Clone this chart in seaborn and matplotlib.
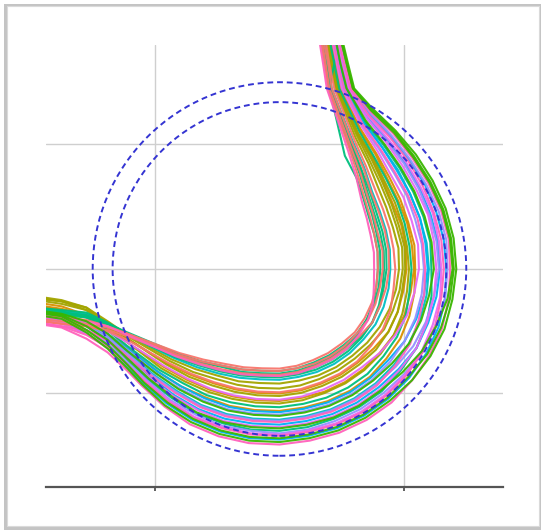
import numpy as np
import pandas as pd
import matplotlib
matplotlib.use("Agg")
import matplotlib.pyplot as plt
import seaborn as sns
from matplotlib.patches import Circle, Rectangle

# ---------------- data ----------------
PALETTE = {"salmon": "#F8766D", "orange": "#D89000", "olive": "#A3A500",
           "green": "#39B600", "teal": "#00BF7D", "cyan": "#00BFC4",
           "blue": "#00B0F6", "purple": "#9590FF", "magenta": "#E76BF3",
           "pink": "#FF62BC"}
HUE_ORDER = ["orange", "olive", "cyan", "teal", "blue", "purple", "magenta",
             "salmon", "pink", "green"]

line_colors = ["salmon", "teal", "pink", "teal", "salmon", "cyan", "olive", "teal",
               "salmon", "teal", "orange", "olive", "salmon", "orange", "olive",
               "magenta", "teal", "orange", "blue", "purple", "green", "cyan",
               "pink", "blue", "magenta", "teal", "purple", "pink", "green",
               "blue", "pink", "green", "purple", "magenta", "olive", "green"]

# entry part: y values at fixed x positions
LEFT_X = [-1.95, -1.75, -1.55, -1.38, -1.22]
left_y = [
    [-0.40, -0.42, -0.44, -0.47, -0.52], [-0.33, -0.35, -0.37, -0.44, -0.51],
    [-0.38, -0.40, -0.42, -0.46, -0.53], [-0.34, -0.36, -0.38, -0.45, -0.53],
    [-0.42, -0.44, -0.46, -0.49, -0.54], [-0.32, -0.34, -0.36, -0.44, -0.53],
    [-0.24, -0.26, -0.31, -0.42, -0.53], [-0.35, -0.37, -0.39, -0.45, -0.52],
    [-0.37, -0.39, -0.41, -0.46, -0.52], [-0.31, -0.33, -0.35, -0.43, -0.52],
    [-0.30, -0.33, -0.36, -0.46, -0.56], [-0.22, -0.25, -0.31, -0.44, -0.56],
    [-0.41, -0.44, -0.46, -0.50, -0.57], [-0.29, -0.32, -0.37, -0.47, -0.59],
    [-0.23, -0.26, -0.33, -0.46, -0.59], [-0.39, -0.42, -0.44, -0.50, -0.59],
    [-0.31, -0.34, -0.39, -0.49, -0.62], [-0.27, -0.30, -0.37, -0.49, -0.63],
    [-0.36, -0.39, -0.42, -0.52, -0.64], [-0.37, -0.40, -0.44, -0.53, -0.65],
    [-0.33, -0.36, -0.42, -0.52, -0.66], [-0.35, -0.38, -0.44, -0.54, -0.67],
    [-0.43, -0.46, -0.49, -0.57, -0.70], [-0.36, -0.39, -0.46, -0.56, -0.70],
    [-0.40, -0.43, -0.49, -0.58, -0.72], [-0.34, -0.37, -0.46, -0.58, -0.73],
    [-0.38, -0.41, -0.49, -0.60, -0.75], [-0.43, -0.46, -0.53, -0.63, -0.77],
    [-0.35, -0.38, -0.49, -0.61, -0.77], [-0.39, -0.42, -0.52, -0.63, -0.79],
    [-0.44, -0.47, -0.56, -0.67, -0.82], [-0.37, -0.40, -0.51, -0.64, -0.80],
    [-0.38, -0.41, -0.46, -0.55, -0.68], [-0.41, -0.44, -0.52, -0.62, -0.77],
    [-0.25, -0.28, -0.33, -0.43, -0.54], [-0.34, -0.37, -0.46, -0.57, -0.72],
]

# loop part: distance from circle centre at fixed bearings (degrees)
ANGLES_DEG = [-140, -130, -120, -110, -100, -90, -80, -70, -60, -50, -40,
              -30, -20, -10, 0, 10, 20, 30, 40, 50, 60]
radii = [
    [1.05, 0.95, 0.88, 0.84, 0.81, 0.80, 0.79, 0.78, 0.78, 0.78, 0.79, 0.79, 0.79, 0.79, 0.79, 0.80, 0.81, 0.84, 0.89, 0.98, 1.12],
    [1.06, 0.97, 0.90, 0.86, 0.83, 0.82, 0.81, 0.80, 0.80, 0.80, 0.81, 0.81, 0.81, 0.81, 0.81, 0.82, 0.83, 0.86, 0.91, 1.00, 1.13],
    [1.09, 1.00, 0.94, 0.90, 0.87, 0.86, 0.85, 0.84, 0.84, 0.84, 0.83, 0.82, 0.80, 0.77, 0.76, 0.77, 0.78, 0.81, 0.86, 0.96, 1.10],
    [1.10, 1.01, 0.95, 0.91, 0.88, 0.87, 0.86, 0.86, 0.86, 0.86, 0.86, 0.86, 0.85, 0.84, 0.84, 0.85, 0.86, 0.88, 0.93, 1.02, 1.15],
    [1.08, 0.99, 0.93, 0.89, 0.86, 0.85, 0.84, 0.83, 0.83, 0.83, 0.84, 0.86, 0.86, 0.87, 0.88, 0.89, 0.90, 0.92, 0.96, 1.05, 1.17],
    [1.11, 1.03, 0.97, 0.93, 0.90, 0.89, 0.88, 0.88, 0.88, 0.88, 0.88, 0.89, 0.89, 0.89, 0.89, 0.90, 0.91, 0.93, 0.97, 1.06, 1.18],
    [1.13, 1.05, 0.99, 0.96, 0.93, 0.92, 0.91, 0.91, 0.91, 0.91, 0.92, 0.93, 0.94, 0.95, 0.96, 0.97, 0.97, 0.99, 1.03, 1.11, 1.22],
    [1.07, 0.98, 0.91, 0.88, 0.85, 0.84, 0.83, 0.82, 0.82, 0.82, 0.82, 0.81, 0.80, 0.79, 0.79, 0.80, 0.81, 0.83, 0.88, 0.96, 1.05],
    [1.07, 0.97, 0.90, 0.86, 0.83, 0.82, 0.81, 0.81, 0.81, 0.81, 0.81, 0.82, 0.82, 0.82, 0.83, 0.84, 0.84, 0.87, 0.92, 1.01, 1.14],
    [1.09, 1.00, 0.94, 0.90, 0.87, 0.86, 0.85, 0.84, 0.84, 0.84, 0.85, 0.86, 0.86, 0.85, 0.86, 0.87, 0.88, 0.90, 0.95, 1.03, 1.16],
    [1.18, 1.11, 1.06, 1.03, 1.01, 1.00, 0.99, 0.98, 0.98, 0.98, 0.99, 1.01, 1.01, 1.01, 1.02, 1.03, 1.04, 1.05, 1.09, 1.16, 1.26],
    [1.19, 1.13, 1.08, 1.05, 1.03, 1.02, 1.01, 1.00, 1.00, 1.00, 1.01, 1.01, 1.01, 1.00, 1.01, 1.02, 1.02, 1.04, 1.08, 1.15, 1.25],
    [1.17, 1.10, 1.05, 1.02, 1.00, 0.99, 0.98, 0.97, 0.97, 0.97, 0.96, 0.96, 0.95, 0.93, 0.93, 0.93, 0.94, 0.96, 1.00, 1.08, 1.20],
    [1.22, 1.16, 1.12, 1.09, 1.07, 1.06, 1.05, 1.05, 1.05, 1.05, 1.05, 1.06, 1.07, 1.07, 1.08, 1.08, 1.09, 1.10, 1.13, 1.20, 1.29],
    [1.24, 1.18, 1.14, 1.11, 1.09, 1.08, 1.07, 1.06, 1.06, 1.06, 1.06, 1.06, 1.05, 1.04, 1.04, 1.04, 1.05, 1.07, 1.10, 1.17, 1.26],
    [1.21, 1.15, 1.11, 1.08, 1.06, 1.05, 1.04, 1.03, 1.03, 1.03, 1.05, 1.07, 1.09, 1.10, 1.12, 1.13, 1.13, 1.15, 1.17, 1.23, 1.32],
    [1.26, 1.20, 1.17, 1.14, 1.12, 1.11, 1.10, 1.10, 1.10, 1.10, 1.09, 1.09, 1.08, 1.06, 1.06, 1.06, 1.07, 1.09, 1.12, 1.18, 1.28],
    [1.28, 1.23, 1.19, 1.17, 1.15, 1.14, 1.13, 1.13, 1.13, 1.13, 1.12, 1.12, 1.11, 1.10, 1.09, 1.10, 1.10, 1.12, 1.15, 1.21, 1.30],
    [1.28, 1.23, 1.20, 1.18, 1.16, 1.15, 1.14, 1.14, 1.14, 1.14, 1.14, 1.16, 1.17, 1.18, 1.19, 1.19, 1.20, 1.21, 1.23, 1.28, 1.35],
    [1.30, 1.25, 1.22, 1.20, 1.18, 1.17, 1.16, 1.16, 1.16, 1.16, 1.16, 1.16, 1.16, 1.16, 1.16, 1.16, 1.16, 1.18, 1.20, 1.25, 1.33],
    [1.30, 1.26, 1.23, 1.21, 1.19, 1.18, 1.17, 1.17, 1.17, 1.17, 1.18, 1.20, 1.21, 1.22, 1.24, 1.24, 1.24, 1.25, 1.27, 1.31, 1.38],
    [1.32, 1.28, 1.26, 1.24, 1.22, 1.21, 1.20, 1.20, 1.20, 1.20, 1.20, 1.20, 1.20, 1.20, 1.20, 1.20, 1.20, 1.21, 1.24, 1.28, 1.36],
    [1.34, 1.30, 1.28, 1.26, 1.24, 1.23, 1.22, 1.22, 1.22, 1.22, 1.21, 1.21, 1.19, 1.18, 1.17, 1.17, 1.18, 1.19, 1.21, 1.26, 1.34],
    [1.35, 1.32, 1.30, 1.28, 1.26, 1.25, 1.24, 1.24, 1.24, 1.24, 1.25, 1.27, 1.27, 1.28, 1.29, 1.29, 1.29, 1.30, 1.32, 1.35, 1.41],
    [1.36, 1.33, 1.31, 1.30, 1.28, 1.27, 1.26, 1.26, 1.26, 1.26, 1.26, 1.27, 1.26, 1.26, 1.26, 1.26, 1.27, 1.27, 1.29, 1.33, 1.40],
    [1.38, 1.35, 1.34, 1.32, 1.31, 1.30, 1.29, 1.28, 1.28, 1.28, 1.27, 1.27, 1.26, 1.24, 1.22, 1.23, 1.23, 1.24, 1.26, 1.30, 1.37],
    [1.39, 1.37, 1.35, 1.34, 1.32, 1.32, 1.31, 1.30, 1.30, 1.30, 1.31, 1.33, 1.34, 1.35, 1.35, 1.36, 1.36, 1.36, 1.37, 1.40, 1.45],
    [1.41, 1.39, 1.38, 1.36, 1.35, 1.34, 1.33, 1.33, 1.33, 1.33, 1.33, 1.33, 1.33, 1.32, 1.32, 1.32, 1.32, 1.33, 1.35, 1.38, 1.43],
    [1.42, 1.40, 1.39, 1.38, 1.37, 1.36, 1.35, 1.35, 1.35, 1.35, 1.35, 1.37, 1.38, 1.39, 1.40, 1.40, 1.40, 1.40, 1.41, 1.44, 1.48],
    [1.43, 1.41, 1.40, 1.39, 1.38, 1.37, 1.36, 1.36, 1.36, 1.36, 1.36, 1.36, 1.36, 1.35, 1.34, 1.34, 1.34, 1.35, 1.36, 1.39, 1.44],
    [1.45, 1.44, 1.44, 1.43, 1.42, 1.41, 1.40, 1.40, 1.40, 1.40, 1.39, 1.39, 1.39, 1.38, 1.37, 1.38, 1.38, 1.38, 1.39, 1.42, 1.46],
    [1.44, 1.43, 1.42, 1.41, 1.40, 1.39, 1.38, 1.38, 1.38, 1.38, 1.39, 1.40, 1.41, 1.41, 1.42, 1.42, 1.42, 1.42, 1.43, 1.45, 1.49],
    [1.33, 1.29, 1.27, 1.25, 1.23, 1.22, 1.21, 1.21, 1.21, 1.21, 1.22, 1.24, 1.25, 1.26, 1.28, 1.28, 1.28, 1.29, 1.31, 1.34, 1.40],
    [1.40, 1.38, 1.37, 1.35, 1.34, 1.33, 1.32, 1.32, 1.32, 1.32, 1.32, 1.32, 1.31, 1.31, 1.30, 1.30, 1.31, 1.31, 1.33, 1.36, 1.42],
    [1.15, 1.08, 1.02, 0.99, 0.97, 0.96, 0.95, 0.94, 0.94, 0.94, 0.95, 0.97, 0.97, 0.98, 0.99, 1.00, 1.00, 1.02, 1.06, 1.13, 1.24],
    [1.37, 1.34, 1.33, 1.31, 1.29, 1.28, 1.27, 1.27, 1.27, 1.27, 1.29, 1.32, 1.34, 1.37, 1.39, 1.39, 1.39, 1.39, 1.40, 1.43, 1.47],
]

# exit part: x values at fixed heights
TOP_Y = [1.45, 1.65, 1.9]
top_x = [
    [0.39, 0.36, 0.32], [0.40, 0.37, 0.32], [0.38, 0.35, 0.31], [0.41, 0.37, 0.33],
    [0.42, 0.39, 0.34], [0.42, 0.39, 0.35], [0.45, 0.41, 0.36], [0.40, 0.44, 0.53],
    [0.40, 0.37, 0.33], [0.41, 0.38, 0.34], [0.47, 0.43, 0.38], [0.46, 0.43, 0.38],
    [0.44, 0.40, 0.36], [0.49, 0.45, 0.40], [0.47, 0.43, 0.39], [0.50, 0.46, 0.41],
    [0.48, 0.44, 0.39], [0.49, 0.45, 0.40], [0.52, 0.48, 0.43], [0.51, 0.47, 0.42],
    [0.54, 0.49, 0.44], [0.53, 0.48, 0.43], [0.52, 0.47, 0.42], [0.56, 0.51, 0.45],
    [0.55, 0.50, 0.45], [0.54, 0.49, 0.44], [0.58, 0.53, 0.47], [0.57, 0.52, 0.46],
    [0.59, 0.54, 0.48], [0.58, 0.53, 0.47], [0.58, 0.54, 0.48], [0.60, 0.55, 0.49],
    [0.55, 0.51, 0.45], [0.56, 0.52, 0.46], [0.46, 0.42, 0.37], [0.59, 0.54, 0.48],
]

R_OUTER = 1.5
R_INNER = 1.34
X_TICKS = [-1, 1]
Y_TICKS = [-1, 0, 1]

# ---------------- long-form table ----------------
rows = []
for i, col in enumerate(line_colors):
    k = 0
    for x, y in zip(LEFT_X, left_y[i]):
        rows.append((i, col, k, x, y)); k += 1
    for a, r in zip(ANGLES_DEG, radii[i]):
        t = np.deg2rad(a)
        rows.append((i, col, k, r * np.cos(t), r * np.sin(t))); k += 1
    for x, y in zip(top_x[i], TOP_Y):
        rows.append((i, col, k, x, y)); k += 1
df = pd.DataFrame(rows, columns=["line", "group", "step", "x", "y"])

# ---------------- figure ----------------
sns.set_theme(style="white")
W, H = 543, 532
fig = plt.figure(figsize=(W / 100, H / 100), dpi=100)
fig.patch.set_facecolor("white")

# card with drop shadow
fig.add_artist(Rectangle((4 / W, 2 / H), 537 / W, 526 / H, transform=fig.transFigure,
                         facecolor="#c4c4c4", edgecolor="none", zorder=-20))
fig.add_artist(Rectangle((7 / W, 6 / H), 532 / W, 520 / H, transform=fig.transFigure,
                         facecolor="white", edgecolor="#dadada", lw=0.8, zorder=-10))

ax = fig.add_axes([46 / W, 45 / H, 457 / W, 442 / H])
ax.set_facecolor("white")

sns.lineplot(data=df, x="x", y="y", hue="group", hue_order=HUE_ORDER, units="line",
             estimator=None, sort=False, palette=PALETTE, legend=False,
             lw=1.5, alpha=0.95, ax=ax)

for rad in (R_OUTER, R_INNER):
    ax.add_patch(Circle((0, 0), rad, fill=False, edgecolor="#3434d2",
                        lw=1.4, linestyle=(0, (3, 2)), zorder=5))

ax.set_xlim(-1.875, 1.795)
ax.set_ylim(-1.751, 1.799)
ax.set_xticks(X_TICKS)
ax.set_yticks(Y_TICKS)
ax.set_xticklabels([])
ax.set_yticklabels([])
ax.set_xlabel("")
ax.set_ylabel("")
ax.tick_params(axis="x", length=3, width=1.2, color="#444444", direction="out", bottom=True)
ax.tick_params(axis="y", length=0, left=False)
ax.grid(True, color="#cfcfcf", lw=1.0)
ax.set_axisbelow(True)
for s in ("top", "left", "right"):
    ax.spines[s].set_visible(False)
ax.spines["bottom"].set_visible(True)
ax.spines["bottom"].set_color("#555555")
ax.spines["bottom"].set_linewidth(1.6)

fig.savefig("out.png", dpi=100, facecolor="white")
